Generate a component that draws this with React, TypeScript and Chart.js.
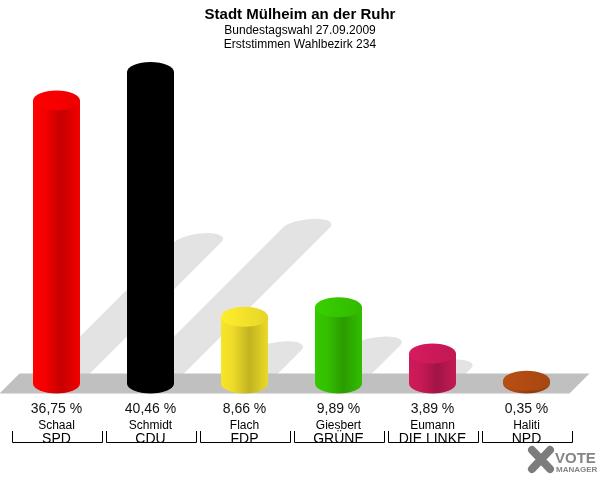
import React, { useEffect, useRef } from "react";
import { Chart, registerables } from "chart.js";

Chart.register(...registerables);

const titleText = "Stadt Mülheim an der Ruhr";
const subtitleLines = ["Bundestagswahl 27.09.2009", "Erststimmen Wahlbezirk 234"];
const parties = ["SPD", "CDU", "FDP", "GRÜNE", "DIE LINKE", "NPD"];
const candidates = ["Schaal", "Schmidt", "Flach", "Giesbert", "Eumann", "Haliti"];
const shares = [36.75, 40.46, 8.66, 9.89, 3.89, 0.35];
const partyColors = ["#ff0000", "#000000", "#f7e52a", "#36c800", "#cf1a5a", "#b24c12"];

const FONT = '"Liberation Sans", Arial, Helvetica, sans-serif';
const RY = 10;

function shade(hex: string, f: number): string {
  const n = parseInt(hex.slice(1), 16);
  const r = Math.max(0, Math.min(255, Math.round(((n >> 16) & 255) * f)));
  const g = Math.max(0, Math.min(255, Math.round(((n >> 8) & 255) * f)));
  const b = Math.max(0, Math.min(255, Math.round((n & 255) * f)));
  return `rgb(${r},${g},${b})`;
}

const cylinderPlugin = {
  id: "cylinders",
  beforeDatasetsDraw(chart: any) {
    const ctx = chart.ctx as CanvasRenderingContext2D;
    const meta = chart.getDatasetMeta(0);
    const base = chart.scales.y.getPixelForValue(0);
    const { left, right } = chart.chartArea;
    // shadows: bar silhouette squashed to half height and sheared at 45°
    ctx.save();
    ctx.fillStyle = "#e3e3e3";
    meta.data.forEach((bar: any) => {
      const { x, y, width } = bar.getProps(["x", "y", "width"], true);
      const l = x - width / 2;
      const r = x + width / 2;
      ctx.save();
      ctx.transform(1, 0, -0.5, 0.5, 0.5 * base, 0.5 * base);
      ctx.beginPath();
      ctx.moveTo(l, base);
      ctx.lineTo(r, base);
      ctx.lineTo(r, y);
      ctx.ellipse(x, y, width / 2, RY * 1.8, 0, 0, Math.PI, true);
      ctx.lineTo(l, base);
      ctx.closePath();
      ctx.restore();
      ctx.fill();
    });
    // floor
    ctx.fillStyle = "#c0c0c0";
    ctx.beginPath();
    ctx.moveTo(left + 10, base - 10);
    ctx.lineTo(right + 16, base - 10);
    ctx.lineTo(right - 4, base + 10);
    ctx.lineTo(left - 10, base + 10);
    ctx.closePath();
    ctx.fill();
    ctx.restore();
  },
  afterDatasetsDraw(chart: any) {
    const ctx = chart.ctx as CanvasRenderingContext2D;
    const meta = chart.getDatasetMeta(0);
    ctx.save();
    meta.data.forEach((bar: any, i: number) => {
      const { x, y, width, base } = bar.getProps(["x", "y", "width", "base"], true);
      const l = x - width / 2;
      const r = x + width / 2;
      const c = partyColors[i];
      const g = ctx.createLinearGradient(l, 0, r, 0);
      g.addColorStop(0, shade(c, 1.0));
      g.addColorStop(0.25, shade(c, 0.96));
      g.addColorStop(0.6, shade(c, 0.78));
      g.addColorStop(1, shade(c, 0.95));
      ctx.fillStyle = g;
      ctx.beginPath();
      ctx.moveTo(l, y);
      ctx.lineTo(l, base);
      ctx.ellipse(x, base, width / 2, RY, 0, Math.PI, 0, true);
      ctx.lineTo(r, y);
      ctx.closePath();
      ctx.fill();
      const cg = ctx.createLinearGradient(l, 0, r, 0);
      cg.addColorStop(0, shade(c, 1.04));
      cg.addColorStop(1, shade(c, 0.93));
      ctx.fillStyle = cg;
      ctx.beginPath();
      ctx.ellipse(x, y, width / 2, RY, 0, 0, Math.PI * 2);
      ctx.fill();
    });
    ctx.restore();
  },
  afterDraw(chart: any) {
    const ctx = chart.ctx as CanvasRenderingContext2D;
    const xs = chart.scales.x;
    const n = parties.length;
    const cw = (chart.chartArea.right - chart.chartArea.left) / n;
    ctx.save();
    ctx.textAlign = "center";
    ctx.textBaseline = "alphabetic";
    // header
    ctx.fillStyle = "#000";
    ctx.font = `bold 15px ${FONT}`;
    ctx.fillText(titleText, 300, 19);
    ctx.font = `12px ${FONT}`;
    ctx.fillText(subtitleLines[0], 300, 34);
    ctx.fillText(subtitleLines[1], 300, 48);
    // labels
    for (let i = 0; i < n; i++) {
      const cx = xs.getPixelForValue(i);
      ctx.fillStyle = "#111";
      ctx.font = `14px ${FONT}`;
      ctx.fillText(shares[i].toFixed(2).replace(".", ",") + " %", cx, 413);
      ctx.fillStyle = "#000";
      ctx.font = `12px ${FONT}`;
      ctx.fillText(candidates[i], cx, 429);
      ctx.font = `14px ${FONT}`;
      ctx.fillText(parties[i], cx, 443);
      const xl = Math.round(cx - cw / 2 + 2) + 0.5;
      const xr = Math.round(cx + cw / 2 - 2) + 0.5;
      ctx.strokeStyle = "#000";
      ctx.lineWidth = 1;
      ctx.beginPath();
      ctx.moveTo(xl, 431);
      ctx.lineTo(xl, 442.5);
      ctx.lineTo(xr, 442.5);
      ctx.lineTo(xr, 431);
      ctx.stroke();
    }
    // logo
    ctx.strokeStyle = "#7c7c7c";
    ctx.lineWidth = 8;
    ctx.lineCap = "round";
    ctx.beginPath();
    ctx.moveTo(532, 450);
    ctx.lineTo(550, 469);
    ctx.moveTo(550, 450);
    ctx.lineTo(532, 469);
    ctx.stroke();
    ctx.fillStyle = "#858585";
    ctx.textAlign = "left";
    ctx.font = `bold 15px ${FONT}`;
    ctx.fillText("VOTE", 555, 463);
    ctx.font = `bold 8px ${FONT}`;
    ctx.fillText("MANAGER", 556, 472);
    ctx.restore();
  },
};

export default function App() {
  const ref = useRef<HTMLCanvasElement | null>(null);
  useEffect(() => {
    if (!ref.current) return;
    const chart = new Chart(ref.current, {
      type: "bar",
      data: {
        labels: parties,
        datasets: [
          {
            data: shares,
            backgroundColor: "rgba(0,0,0,0)",
            borderWidth: 0,
            barPercentage: 0.5,
            categoryPercentage: 1,
          },
        ],
      },
      options: {
        responsive: false,
        animation: false,
        events: [],
        layout: { padding: { left: 9.5, right: 26.5, top: 29.3, bottom: 96.5 } },
        plugins: {
          legend: { display: false },
          tooltip: { enabled: false },
          title: { display: false },
        },
        scales: {
          x: { display: false },
          y: { display: false, min: 0, max: 46 },
        },
      },
      plugins: [cylinderPlugin],
    });
    return () => chart.destroy();
  }, []);
  return (
    <div style={{ position: "absolute", left: 0, top: 0, width: 600, height: 480, background: "#fff" }}>
      <canvas ref={ref} width={600} height={480} style={{ display: "block" }} />
    </div>
  );
}
